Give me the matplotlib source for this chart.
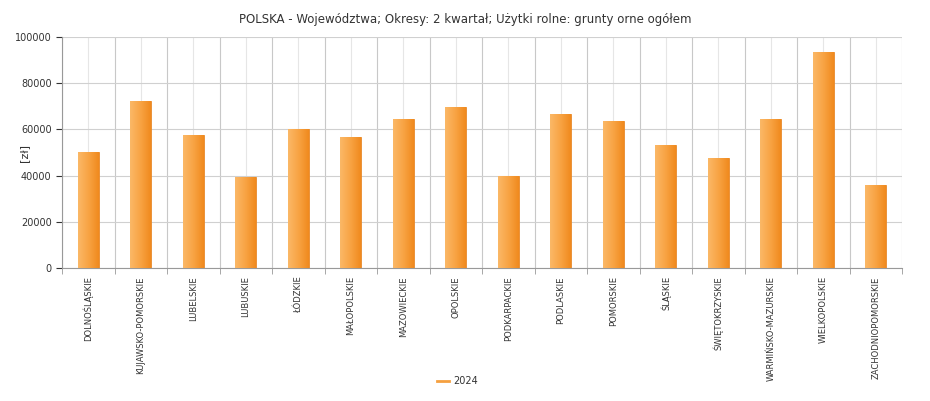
import numpy as np
import matplotlib.pyplot as plt
from matplotlib.colors import LinearSegmentedColormap

regions = ['DOLNOŚLĄSKIE', 'KUJAWSKO-POMORSKIE', 'LUBELSKIE', 'LUBUSKIE', 'ŁÓDZKIE',
           'MAŁOPOLSKIE', 'MAZOWIECKIE', 'OPOLSKIE', 'PODKARPACKIE', 'PODLASKIE',
           'POMORSKIE', 'ŚLĄSKIE', 'ŚWIĘTOKRZYSKIE', 'WARMIŃSKO-MAZURSKIE',
           'WIELKOPOLSKIE', 'ZACHODNIOPOMORSKIE']
values_2024 = [50200, 72500, 57700, 39200, 60200, 56800, 64700, 69800,
               39800, 66600, 63800, 53100, 47500, 64400, 93300, 36000]

fig = plt.figure(figsize=(9.3, 4.01), dpi=100)
ax = fig.add_axes([62/930, 1 - 268/401, 840/930, 231/401])

x = np.arange(len(regions))
bars = ax.bar(x, values_2024, width=0.4, color='#f5a040', edgecolor='#e8892a', linewidth=0.6, zorder=2)

cmap = LinearSegmentedColormap.from_list('og', ['#fbb867', '#f8a444', '#f08a1e'])
grad = np.linspace(0, 1, 64).reshape(1, -1)
for b in bars:
    bx, by = b.get_x(), b.get_y()
    im = ax.imshow(grad, cmap=cmap, aspect='auto', zorder=3,
                   extent=[bx, bx + b.get_width(), by, by + b.get_height()])
    im.set_clip_path(b)

ax.set_xlim(-0.5, len(regions) - 0.5)
ax.set_ylim(0, 100000)
ax.set_yticks(range(0, 100001, 20000))
ax.set_xticks(x)
ax.set_xticklabels(regions, rotation=90, fontsize=6, color='#333333')
ax.tick_params(axis='y', labelsize=7, colors='#333333', length=4)
ax.tick_params(axis='x', length=0, pad=6)
ax.set_xticks(np.arange(-0.5, len(regions)), minor=True)
ax.tick_params(axis='x', which='minor', length=4, color='#999999')
ax.grid(axis='y', color='#d0d0d0', linewidth=0.8, zorder=0)
ax.grid(axis='x', which='minor', color='#c8c8c8', linewidth=0.8, zorder=0)
ax.grid(axis='x', which='major', color='#e6e6e6', linewidth=0.8, zorder=0)
for s in ['top', 'right']:
    ax.spines[s].set_visible(False)
ax.spines['left'].set_color('#999999')
ax.spines['bottom'].set_color('#999999')
ax.set_ylabel('[zł]', fontsize=8, color='#333333')
ax.yaxis.set_label_coords(-33/840, 0.5)

fig.text(0.5, 1 - 19/401, 'POLSKA - Województwa; Okresy: 2 kwartał; Użytki rolne: grunty orne ogółem',
         ha='center', va='center', fontsize=8.5, color='#333333')
fig.lines.append(plt.Line2D([437/930, 449/930], [1 - 381/401] * 2, color='#f5a040', lw=2, transform=fig.transFigure))
fig.text(453/930, 1 - 381/401, '2024', va='center', fontsize=7, color='#333333')

fig.savefig('out.png', dpi=100)
